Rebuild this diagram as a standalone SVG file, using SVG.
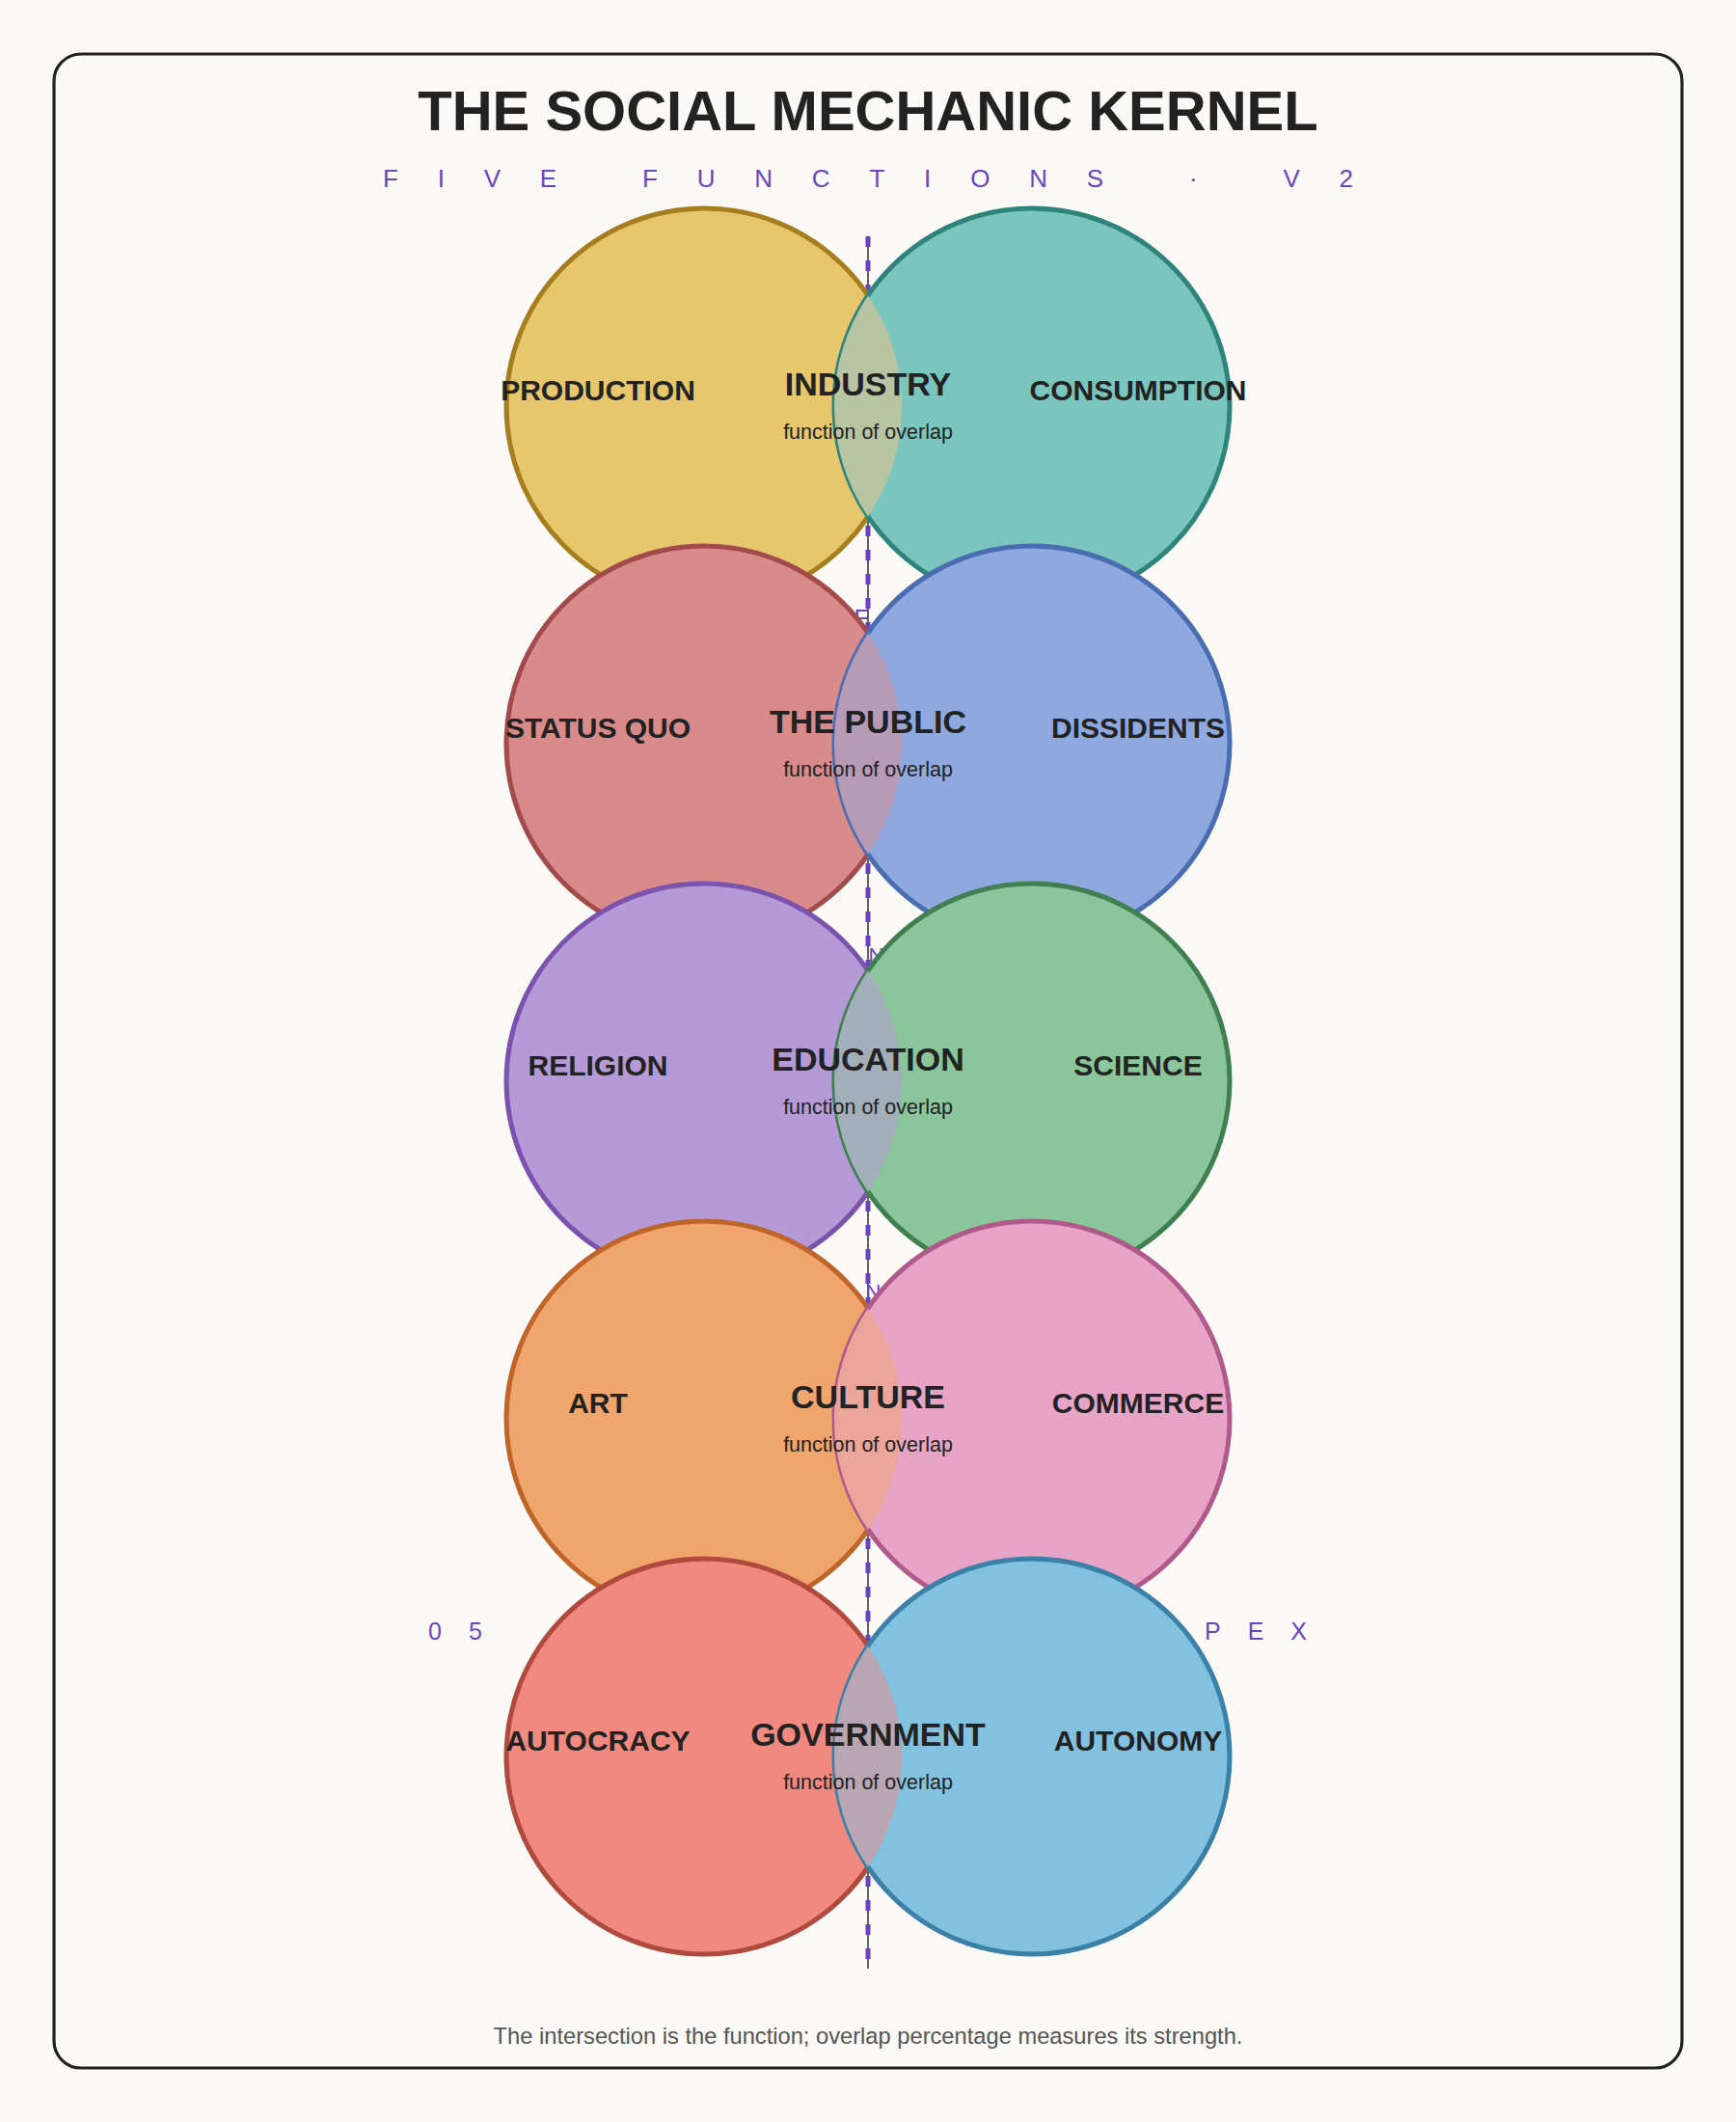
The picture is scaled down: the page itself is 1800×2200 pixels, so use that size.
<svg xmlns="http://www.w3.org/2000/svg" width="1800" height="2200" viewBox="0 0 1800 2200">
<style>
.bg{fill:#faf9f5}
.frame{fill:#faf9f5;stroke:#222;stroke-width:3.2}
.title{font-family:"Liberation Sans",Arial,sans-serif;font-weight:bold;font-size:58px;fill:#222;text-anchor:middle}
.sub{font-family:"Liberation Sans",Arial,sans-serif;font-size:26px;fill:#6a45c0;letter-spacing:40.8px}
.ghost{font-family:"Liberation Sans",Arial,sans-serif;font-size:25px;fill:#6a45c0;letter-spacing:28px}
.side{font-family:"Liberation Sans",Arial,sans-serif;font-weight:bold;font-size:30px;fill:#222;text-anchor:middle}
.fn{font-family:"Liberation Sans",Arial,sans-serif;font-weight:bold;font-size:34px;fill:#222;text-anchor:middle}
.fs{font-family:"Liberation Sans",Arial,sans-serif;font-size:21.5px;fill:#222;text-anchor:middle}
.foot{font-family:"Liberation Sans",Arial,sans-serif;font-size:23.7px;fill:#555;text-anchor:middle}
.c{stroke-width:5}
</style>
<rect class="bg" x="0" y="0" width="1800" height="2200"/>
<rect class="frame" x="56" y="56" width="1688" height="2088" rx="28"/>
<text class="title" x="900" y="135">THE SOCIAL MECHANIC KERNEL</text>
<text class="sub" x="397" y="194">FIVE FUNCTIONS · V2</text>

<g id="connectors">
<line x1="900" y1="245" x2="900" y2="2041" stroke="#111" stroke-width="1.3"/>
<line x1="900" y1="245" x2="900" y2="2041" stroke="#6b40c0" stroke-width="5" stroke-dasharray="11 14"/>
</g>

<g id="hidden-labels">
<text class="ghost" x="885.5" y="650" style="letter-spacing:0">E</text>
<text class="ghost" x="900.5" y="997.5" style="letter-spacing:0;font-size:22px">N</text>
<text class="ghost" x="897.5" y="1347" style="letter-spacing:0;font-size:22px">N</text>
<text class="ghost" x="444" y="1700">05</text>
<text class="ghost" x="1249" y="1700">PEX</text>
</g>

<g id="row-industry">
<g id="node-production"><circle class="c" cx="730" cy="421" r="205" fill="#e6c76e" stroke="#a67e1d"/><text class="side" x="620" y="415">PRODUCTION</text></g>
<g id="node-consumption"><circle class="c" cx="1070" cy="421" r="205" fill="#7bc5bf" stroke="#2e847b"/><text class="side" x="1180" y="415">CONSUMPTION</text></g>
<g id="node-industry"><path d="M900 306.44 A205 205 0 0 1 900 535.56 A205 205 0 0 1 900 306.44Z" fill="#b7c5a2"/><text class="fn" x="900" y="410">INDUSTRY</text><text class="fs" x="900" y="454.5">function of overlap</text></g>
</g>

<g id="row-public">
<g id="node-statusquo"><circle class="c" cx="730" cy="771" r="205" fill="#d98a8a" stroke="#a34a4a"/><text class="side" x="620" y="765">STATUS QUO</text></g>
<g id="node-dissidents"><circle class="c" cx="1070" cy="771" r="205" fill="#8fa9e0" stroke="#4a6db1"/><text class="side" x="1180" y="765">DISSIDENTS</text></g>
<g id="node-public"><path d="M900 656.44 A205 205 0 0 1 900 885.56 A205 205 0 0 1 900 656.44Z" fill="#b79ab5"/><text class="fn" x="900" y="760">THE PUBLIC</text><text class="fs" x="900" y="804.5">function of overlap</text></g>
</g>

<g id="row-education">
<g id="node-religion"><circle class="c" cx="730" cy="1121" r="205" fill="#b69ad8" stroke="#7b53ae"/><text class="side" x="620" y="1115">RELIGION</text></g>
<g id="node-science"><circle class="c" cx="1070" cy="1121" r="205" fill="#8bc59a" stroke="#3f7f50"/><text class="side" x="1180" y="1115">SCIENCE</text></g>
<g id="node-education"><path d="M900 1006.44 A205 205 0 0 1 900 1235.56 A205 205 0 0 1 900 1006.44Z" fill="#a2aeb8"/><text class="fn" x="900" y="1110">EDUCATION</text><text class="fs" x="900" y="1154.5">function of overlap</text></g>
</g>

<g id="row-culture">
<g id="node-art"><circle class="c" cx="730" cy="1471" r="205" fill="#f0a56c" stroke="#c0652a"/><text class="side" x="620" y="1465">ART</text></g>
<g id="node-commerce"><circle class="c" cx="1070" cy="1471" r="205" fill="#e8a4c6" stroke="#b05a8c"/><text class="side" x="1180" y="1465">COMMERCE</text></g>
<g id="node-culture"><path d="M900 1356.44 A205 205 0 0 1 900 1585.56 A205 205 0 0 1 900 1356.44Z" fill="#eca59a"/><text class="fn" x="900" y="1460">CULTURE</text><text class="fs" x="900" y="1504.5">function of overlap</text></g>
</g>

<g id="row-government">
<g id="node-autocracy"><circle class="c" cx="730" cy="1821" r="205" fill="#f08a80" stroke="#b04a3f"/><text class="side" x="620" y="1815">AUTOCRACY</text></g>
<g id="node-autonomy"><circle class="c" cx="1070" cy="1821" r="205" fill="#82c1df" stroke="#3b80a7"/><text class="side" x="1180" y="1815">AUTONOMY</text></g>
<g id="node-government"><path d="M900 1706.44 A205 205 0 0 1 900 1935.56 A205 205 0 0 1 900 1706.44Z" fill="#b8a6b2"/><text class="fn" x="900" y="1810">GOVERNMENT</text><text class="fs" x="900" y="1854.5">function of overlap</text></g>
</g>

<text class="foot" x="900" y="2119">The intersection is the function; overlap percentage measures its strength.</text>
</svg>
